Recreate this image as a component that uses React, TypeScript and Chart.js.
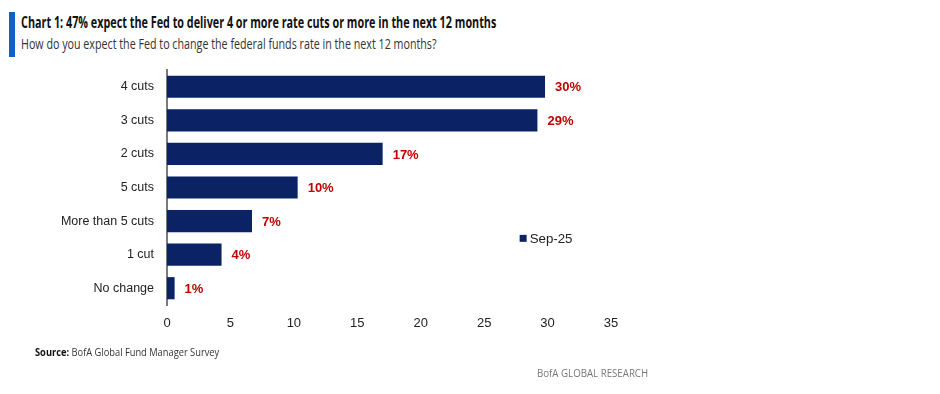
import React, { useEffect, useRef } from "react";
import { Chart, registerables } from "chart.js";

Chart.register(...registerables);

const categories = ["4 cuts", "3 cuts", "2 cuts", "5 cuts", "More than 5 cuts", "1 cut", "No change"];
const values = [29.8, 29.2, 17.0, 10.3, 6.7, 4.3, 0.6];
const valueLabels = ["30%", "29%", "17%", "10%", "7%", "4%", "1%"];
const seriesName = "Sep-25";
const xTicks = [0, 5, 10, 15, 20, 25, 30, 35];

const NAVY = "#0b2265";
const RED = "#c00000";

const overlayPlugin = {
  id: "overlay",
  afterDatasetsDraw(chart: any) {
    const ctx = chart.ctx;
    const meta = chart.getDatasetMeta(0);
    ctx.save();
    ctx.font = "bold 13px 'Liberation Sans', Arial, sans-serif";
    ctx.fillStyle = RED;
    ctx.textBaseline = "middle";
    ctx.textAlign = "left";
    meta.data.forEach((bar: any, i: number) => {
      ctx.fillText(valueLabels[i], bar.x + 10, bar.y + 1);
    });
    // legend
    const xs = chart.scales.x;
    const ys = chart.scales.y;
    const lx = xs.getPixelForValue(28.35);
    const ly = (ys.getPixelForValue(4) + ys.getPixelForValue(5)) / 2 + 1;
    ctx.fillStyle = NAVY;
    ctx.fillRect(lx - 7, ly - 4, 7, 7);
    ctx.fillStyle = "#222";
    ctx.font = "13.3px 'Liberation Sans', Arial, sans-serif";
    ctx.fillText(seriesName, lx + 3, ly);
    ctx.restore();
  },
};

export default function App() {
  const ref = useRef<HTMLCanvasElement>(null);
  useEffect(() => {
    if (!ref.current) return;
    const chart = new Chart(ref.current, {
      type: "bar",
      data: {
        labels: categories,
        datasets: [
          {
            label: seriesName,
            data: values,
            backgroundColor: NAVY,
            categoryPercentage: 1,
            barPercentage: 0.66,
          },
        ],
      },
      options: {
        indexAxis: "y",
        animation: false,
        responsive: false,
        layout: { padding: { left: 0, right: 329, top: 70, bottom: 0 } },
        plugins: { legend: { display: false }, tooltip: { enabled: false } },
        scales: {
          x: {
            min: 0,
            max: 35,
            afterFit: (s: any) => {
              s.height = 89;
            },
            afterBuildTicks: (s: any) => {
              s.ticks = xTicks.map((v) => ({ value: v }));
            },
            grid: { display: false, drawTicks: false },
            border: { display: false },
            ticks: {
              padding: 11,
              color: "#222",
              font: { family: "'Liberation Sans', Arial, sans-serif", size: 13 },
            },
          },
          y: {
            afterFit: (s: any) => {
              s.width = 167;
            },
            grid: { display: false, drawTicks: false },
            border: { display: true, color: "#7a7a7a", width: 2 },
            ticks: {
              padding: 13,
              color: "#222",
              font: { family: "'Liberation Sans', Arial, sans-serif", size: 12.5 },
            },
          },
        },
      },
      plugins: [overlayPlugin],
    });
    return () => chart.destroy();
  }, []);

  return (
    <div style={{ position: "fixed", left: 0, top: 0, width: 940, height: 394, background: "#fff", overflow: "hidden" }}>
      <div style={{ position: "absolute", left: 9, top: 12, width: 6, height: 45, background: "#1160c4" }} />
      <div
        style={{
          position: "absolute",
          left: 21,
          top: 11,
          fontFamily: "'Open Sans', sans-serif",
          fontWeight: 700,
          fontSize: 16,
          color: "#111",
          whiteSpace: "nowrap",
          transform: "scaleX(0.675)",
          transformOrigin: "0 0",
        }}
      >
        Chart 1: 47% expect the Fed to deliver 4 or more rate cuts or more in the next 12 months
      </div>
      <div
        style={{
          position: "absolute",
          left: 21,
          top: 34,
          fontFamily: "'Open Sans', sans-serif",
          fontWeight: 400,
          fontSize: 14,
          color: "#333",
          whiteSpace: "nowrap",
          transform: "scaleX(0.765)",
          transformOrigin: "0 0",
        }}
      >
        How do you expect the Fed to change the federal funds rate in the next 12 months?
      </div>
      <canvas ref={ref} width={940} height={394} style={{ position: "absolute", left: 0, top: 0 }} />
      <div
        style={{
          position: "absolute",
          left: 35,
          top: 345,
          fontFamily: "'Open Sans', sans-serif",
          fontSize: 10,
          color: "#333",
          whiteSpace: "nowrap",
          transform: "scaleX(0.93)",
          transformOrigin: "0 0",
        }}
      >
        <b style={{ color: "#111" }}>Source:</b> BofA Global Fund Manager Survey
      </div>
      <div
        style={{
          position: "absolute",
          left: 537,
          top: 366,
          fontFamily: "'Open Sans', sans-serif",
          fontSize: 10,
          color: "#777",
          whiteSpace: "nowrap",
          transform: "scaleX(0.97)",
          transformOrigin: "0 0",
        }}
      >
        BofA GLOBAL RESEARCH
      </div>
    </div>
  );
}
